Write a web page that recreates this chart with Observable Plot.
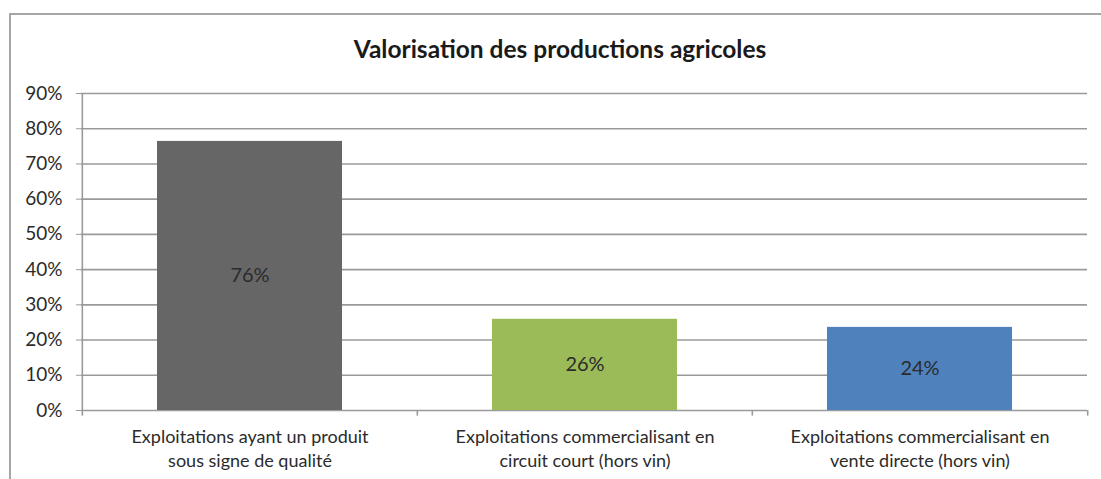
<!DOCTYPE html>
<html>
<head>
<meta charset="utf-8">
<script src="https://cdn.jsdelivr.net/npm/d3@7"></script>
<script src="https://cdn.jsdelivr.net/npm/@observablehq/plot@0.6"></script>
<style>
  html, body { margin: 0; padding: 0; background: #fff; width: 1101px; height: 479px; overflow: hidden; }
  #frame { position: absolute; left: 9px; top: 13px; width: 1100px; height: 480px; border-left: 2px solid #a6a6a6; border-top: 2px solid #a6a6a6; }
  #title { position: absolute; left: 0; width: 1120px; top: 34px; text-align: center; font-family: Lato, sans-serif; font-weight: bold; font-size: 24.5px; line-height: 30px; color: #1a1a1a; }
  #chart { position: absolute; left: 0; top: 75px; }
  #chart svg { font-family: Lato, sans-serif; }
</style>
</head>
<body>
<div id="frame"></div>
<div id="title">Valorisation des productions agricoles</div>
<div id="chart"></div>
<script>
const categories = [
  "Exploitations ayant un produit\nsous signe de qualité",
  "Exploitations commercialisant en\ncircuit court (hors vin)",
  "Exploitations commercialisant en\nvente directe (hors vin)"
];
const values = [76.4, 25.9, 23.6];
const valueLabels = ["76%", "26%", "24%"];
const barColors = ["#666666", "#9BBB59", "#4F81BD"];
const yTicks = [0, 10, 20, 30, 40, 50, 60, 70, 80, 90];

const data = categories.map((c, i) => ({cat: c, value: values[i], label: valueLabels[i], color: barColors[i]}));

const W = 1101, H = 404, ML = 81, MR = 14, MT = 18, MB = 69;
const step = (W - ML - MR) / categories.length;
const gridColor = "#9a9a9a";
const textColor = "#2b2b2b";

const chart = Plot.plot({
  width: W, height: H,
  marginLeft: ML, marginRight: MR, marginTop: MT, marginBottom: MB,
  style: {fontFamily: "Lato, sans-serif", background: "transparent", overflow: "visible"},
  x: {domain: categories, paddingInner: 0.448, paddingOuter: 0.224, axis: null},
  y: {domain: [0, 90], axis: null},
  marks: [
    Plot.ruleY(yTicks, {stroke: gridColor, strokeWidth: 1.6}),
    Plot.barY(data, {x: "cat", y: "value", fill: "color"}),
    Plot.text(data, {x: "cat", y: d => d.value / 2, text: "label", fontSize: 20, fill: textColor}),
    // y axis line
    Plot.ruleX([categories[0]], {x: d => d, y1: 0, y2: 90, dx: -step / 2, stroke: gridColor, strokeWidth: 1.6}),
    // y ticks + labels
    Plot.axisY({ticks: yTicks, tickFormat: d => d + "%", tickSize: 5, tickPadding: 14, stroke: gridColor, fill: textColor, fontSize: 19, label: null}),
    // x category boundary ticks
    Plot.ruleX(categories, {x: d => d, y1: 0, y2: -1.6, dx: -step / 2, stroke: gridColor, strokeWidth: 1.6}),
    Plot.ruleX([categories[categories.length - 1]], {x: d => d, y1: 0, y2: -1.6, dx: step / 2, stroke: gridColor, strokeWidth: 1.6}),
    // x labels
    Plot.text(categories, {x: d => d, frameAnchor: "bottom", lineAnchor: "top", dy: 16, lineHeight: 1.3, fontSize: 18, fill: textColor})
  ]
});
document.getElementById("chart").appendChild(chart);
</script>
</body>
</html>
